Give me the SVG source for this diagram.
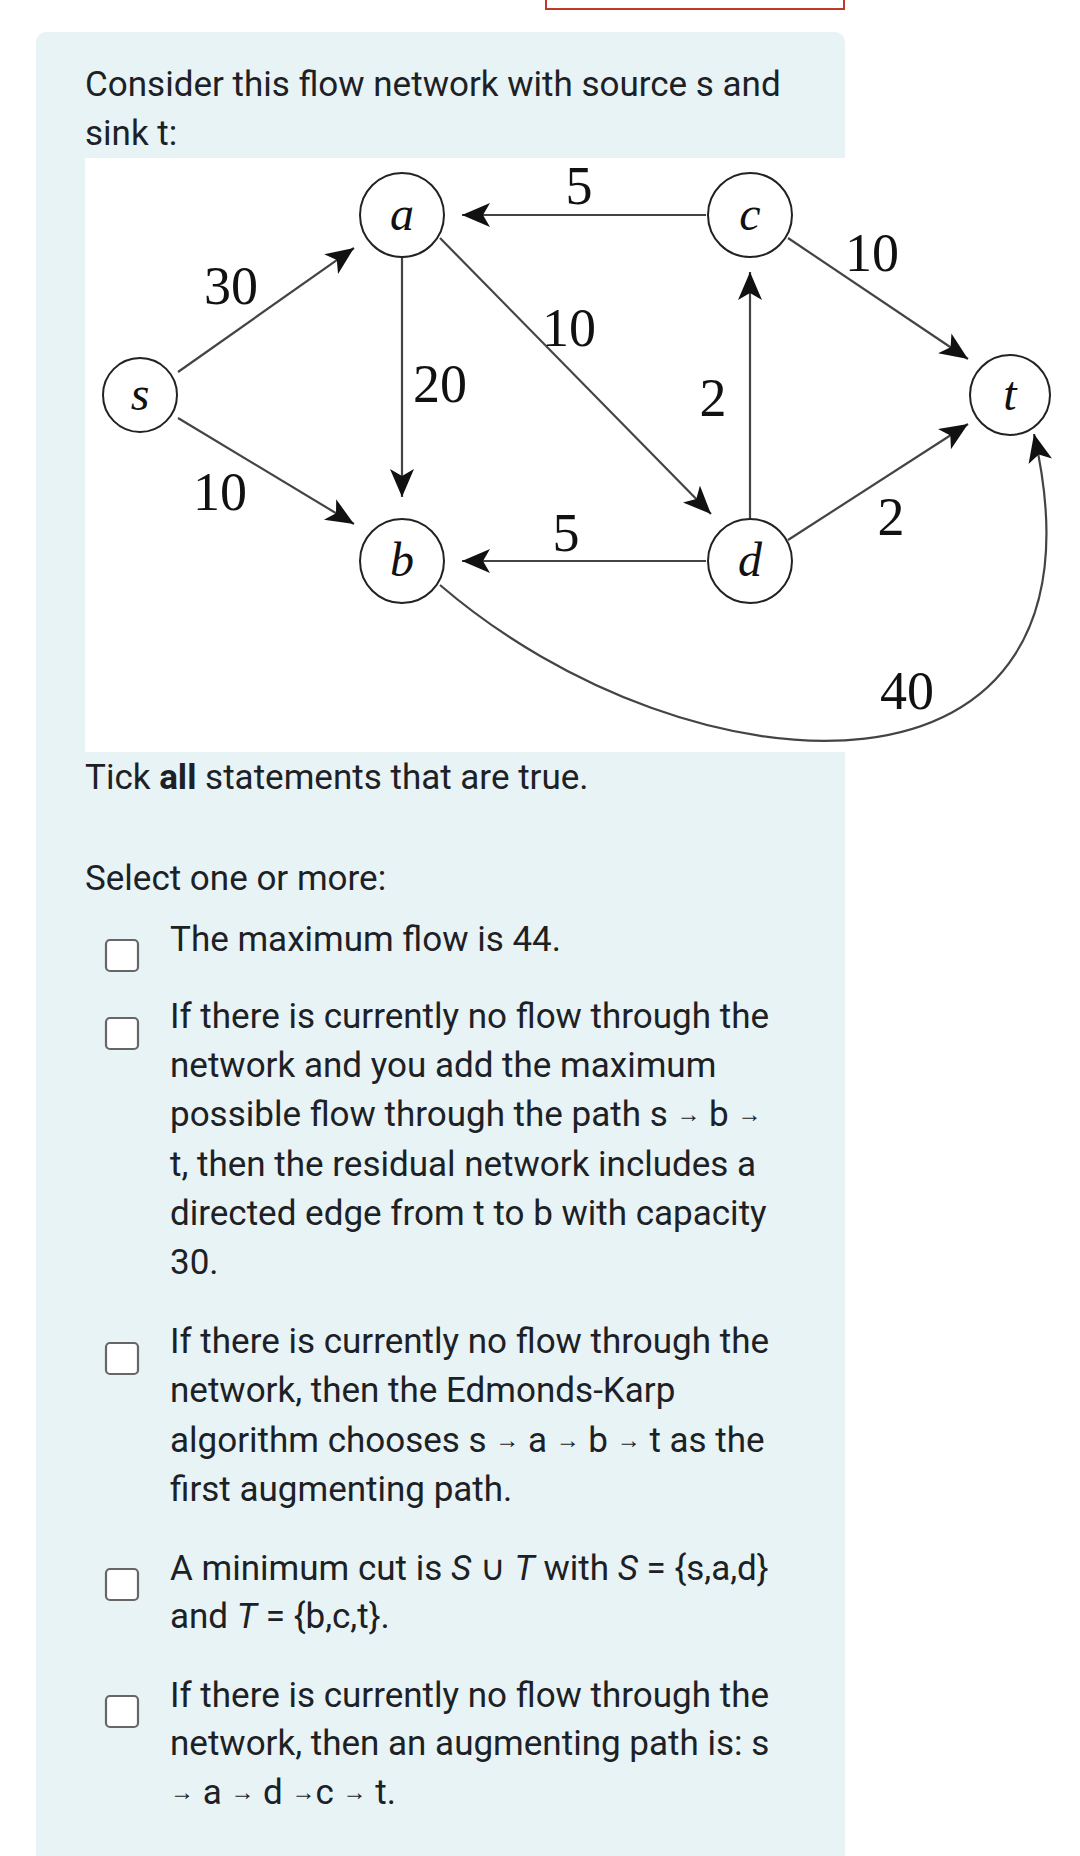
<svg xmlns="http://www.w3.org/2000/svg" width="1080" height="1856" viewBox="0 0 1080 1856">
<style>
.t{font-family:Roboto,"Liberation Sans",sans-serif;font-size:35px;fill:#1d2125}
.ar{font-size:24px}
.lbl{font-family:"Liberation Serif",serif;font-size:54px;fill:#111;text-anchor:middle}
.nl{font-family:"Liberation Serif",serif;font-style:italic;font-size:48px;fill:#111;text-anchor:middle}
.node{fill:#fff;stroke:#222;stroke-width:2}
.e{fill:none;stroke:#444;stroke-width:2.2}
.cb{fill:#fff;stroke:#666;stroke-width:2.2}
</style>
<defs>
<marker id="ah" viewBox="0 0 28 24" refX="28" refY="12" markerWidth="28" markerHeight="24" markerUnits="userSpaceOnUse" orient="auto">
<path d="M0,0 L28,12 L0,24 L7,12 Z" fill="#111"/>
</marker>
</defs>
<rect width="1080" height="1856" fill="#fff"/>
<rect x="546" y="-12" width="298" height="21" fill="none" stroke="#c0392b" stroke-width="2"/>
<rect x="36" y="32" width="809" height="1850" rx="10" fill="#e7f3f5"/>
<text class="t" x="85" y="96">Consider this flow network with source s and</text>
<text class="t" x="85" y="145">sink t:</text>
<rect x="85" y="158" width="760" height="594" fill="#fff"/>
<g id="edges">
<line class="e" x1="178" y1="372" x2="354" y2="248" marker-end="url(#ah)"/>
<line class="e" x1="178" y1="418" x2="354" y2="524" marker-end="url(#ah)"/>
<line class="e" x1="706" y1="215" x2="462" y2="215" marker-end="url(#ah)"/>
<line class="e" x1="402" y1="258" x2="402" y2="497" marker-end="url(#ah)"/>
<line class="e" x1="440" y1="238" x2="711" y2="514" marker-end="url(#ah)"/>
<line class="e" x1="750" y1="520" x2="750" y2="272" marker-end="url(#ah)"/>
<line class="e" x1="706" y1="561" x2="462" y2="561" marker-end="url(#ah)"/>
<line class="e" x1="788" y1="238" x2="968" y2="359" marker-end="url(#ah)"/>
<line class="e" x1="788" y1="540" x2="968" y2="424" marker-end="url(#ah)"/>
<path class="e" d="M440,585 C690,800 1125,830 1034,434" marker-end="url(#ah)"/>
</g>
<g id="labels">
<text class="lbl" x="579" y="204">5</text>
<text class="lbl" x="231" y="304">30</text>
<text class="lbl" x="872" y="271">10</text>
<text class="lbl" x="569" y="346">10</text>
<text class="lbl" x="440" y="402">20</text>
<text class="lbl" x="713" y="416">2</text>
<text class="lbl" x="220" y="510">10</text>
<text class="lbl" x="566" y="551">5</text>
<text class="lbl" x="891" y="535">2</text>
<text class="lbl" x="907" y="709">40</text>
</g>
<g id="s"><circle class="node" cx="140" cy="395" r="37"/><text class="nl" x="140" y="410">s</text></g>
<g id="a"><circle class="node" cx="402" cy="215" r="42"/><text class="nl" x="402" y="230">a</text></g>
<g id="c"><circle class="node" cx="750" cy="215" r="42"/><text class="nl" x="750" y="230">c</text></g>
<g id="t"><circle class="node" cx="1010" cy="395" r="40"/><text class="nl" x="1010" y="410">t</text></g>
<g id="b"><circle class="node" cx="402" cy="561" r="42"/><text class="nl" x="402" y="576">b</text></g>
<g id="d"><circle class="node" cx="750" cy="561" r="42"/><text class="nl" x="750" y="576">d</text></g>
<text class="t" x="85" y="789">Tick <tspan font-weight="bold">all</tspan> statements that are true.</text>
<text class="t" x="85" y="890">Select one or more:</text>
<rect class="cb" x="106" y="940" width="32" height="31" rx="4"/>
<text class="t" x="170" y="951">The maximum flow is 44.</text>
<rect class="cb" x="106" y="1018" width="32" height="31" rx="4"/>
<text class="t" x="170" y="1028">If there is currently no flow through the</text>
<text class="t" x="170" y="1077">network and you add the maximum</text>
<text class="t" x="170" y="1126">possible flow through the path s <tspan class="ar" baseline-shift="4">→</tspan> b <tspan class="ar" baseline-shift="4">→</tspan></text>
<text class="t" x="170" y="1176">t, then the residual network includes a</text>
<text class="t" x="170" y="1225">directed edge from t to b with capacity</text>
<text class="t" x="170" y="1274">30.</text>
<rect class="cb" x="106" y="1343" width="32" height="31" rx="4"/>
<text class="t" x="170" y="1353">If there is currently no flow through the</text>
<text class="t" x="170" y="1402">network, then the Edmonds-Karp</text>
<text class="t" x="170" y="1452">algorithm chooses s <tspan class="ar" baseline-shift="4">→</tspan> a <tspan class="ar" baseline-shift="4">→</tspan> b <tspan class="ar" baseline-shift="4">→</tspan> t as the</text>
<text class="t" x="170" y="1501">first augmenting path.</text>
<rect class="cb" x="106" y="1569" width="32" height="31" rx="4"/>
<text class="t" x="170" y="1580">A minimum cut is <tspan font-style="italic">S</tspan> ∪ <tspan font-style="italic">T</tspan> with <tspan font-style="italic">S</tspan> = {s,a,d}</text>
<text class="t" x="170" y="1628">and <tspan font-style="italic">T</tspan> = {b,c,t}.</text>
<rect class="cb" x="106" y="1696" width="32" height="31" rx="4"/>
<text class="t" x="170" y="1707">If there is currently no flow through the</text>
<text class="t" x="170" y="1755">network, then an augmenting path is: s</text>
<text class="t" x="170" y="1804"><tspan class="ar" baseline-shift="4">→</tspan> a <tspan class="ar" baseline-shift="4">→</tspan> d <tspan class="ar" baseline-shift="4">→</tspan>c <tspan class="ar" baseline-shift="4">→</tspan> t.</text>
</svg>
